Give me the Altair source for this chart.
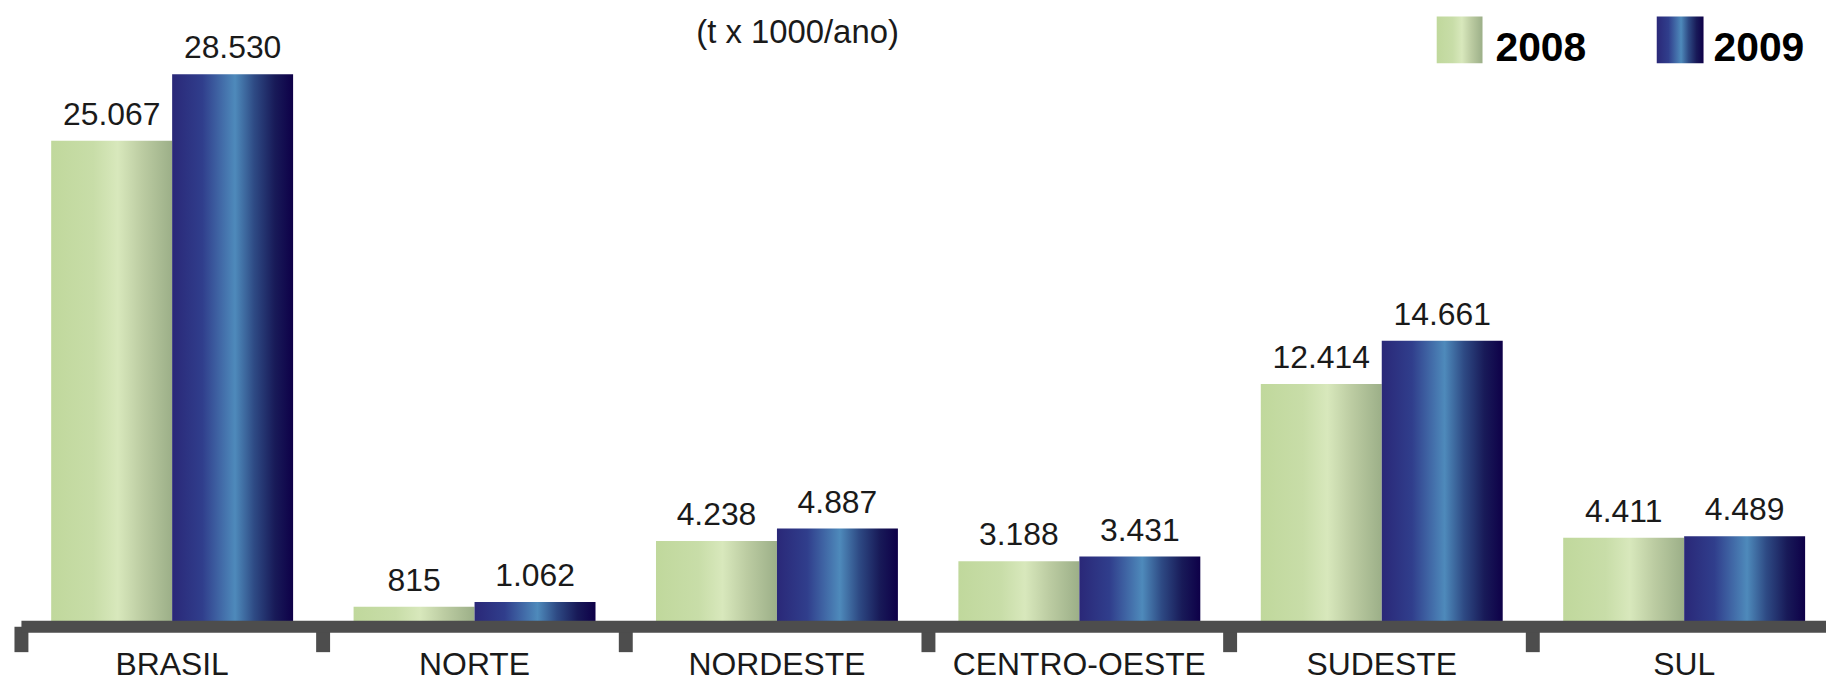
import altair as alt
import pandas as pd

regions = ["BRASIL", "NORTE", "NORDESTE", "CENTRO-OESTE", "SUDESTE", "SUL"]
years = ["2008", "2009"]
v2008 = [25067, 815, 4238, 3188, 12414, 4411]
v2009 = [28530, 1062, 4887, 3431, 14661, 4489]
subtitle = "(t x 1000/ano)"

rows = []
for r, a, b in zip(regions, v2008, v2009):
    rows.append({"regiao": r, "ano": "2008", "valor": a})
    rows.append({"regiao": r, "ano": "2009", "valor": b})
df = pd.DataFrame(rows)
df["rotulo"] = df["valor"].map(lambda v: f"{v:,}".replace(",", "."))
legend_df = pd.DataFrame({"ano": years})
title_df = pd.DataFrame({"t": [subtitle]})

FONT = "Liberation Sans"

green = alt.Gradient(
    gradient="linear", x1=0, x2=1, y1=0, y2=0,
    stops=[
        alt.GradientStop(color="#c0d89c", offset=0),
        alt.GradientStop(color="#c8dda8", offset=0.35),
        alt.GradientStop(color="#d8e8bc", offset=0.55),
        alt.GradientStop(color="#bccca2", offset=0.75),
        alt.GradientStop(color="#9caf88", offset=1),
    ],
)
blue = alt.Gradient(
    gradient="linear", x1=0, x2=1, y1=0, y2=0,
    stops=[
        alt.GradientStop(color="#2a2878", offset=0),
        alt.GradientStop(color="#303e8c", offset=0.25),
        alt.GradientStop(color="#4e8abb", offset=0.52),
        alt.GradientStop(color="#2e4a84", offset=0.68),
        alt.GradientStop(color="#181a58", offset=0.85),
        alt.GradientStop(color="#0e0048", offset=1),
    ],
)

x_enc = alt.X(
    "regiao:N",
    sort=regions,
    scale=alt.Scale(range=[0, 1822.4], paddingInner=0, paddingOuter=0),
    axis=alt.Axis(
        title=None, labelAngle=0, domainColor="#4d4d4d", domainWidth=12,
        tickColor="#4d4d4d", tickWidth=14, tickSize=25.5, bandPosition=0,
        labelFontSize=32, labelFont=FONT, labelColor="#1a1a1a",
        labelPadding=-2, labelLimit=0, zindex=1,
    ),
)
xo_enc = alt.XOffset(
    "ano:N",
    scale=alt.Scale(domain=years, paddingOuter=0.25, paddingInner=0),
)
y_scale = alt.Scale(domain=[-197, 31898], nice=False, zero=False)
y_enc = alt.Y("valor:Q", scale=y_scale, axis=None)

base = alt.Chart(df)

bars08 = base.transform_filter(alt.datum.ano == "2008").mark_bar(color=green).encode(
    x=x_enc, xOffset=xo_enc, y=y_enc
)
bars09 = base.transform_filter(alt.datum.ano == "2009").mark_bar(color=blue).encode(
    x=x_enc, xOffset=xo_enc, y=y_enc
)
texts = base.mark_text(
    dy=-16, baseline="alphabetic", fontSize=32, font=FONT, color="#1a1a1a"
).encode(x=x_enc, xOffset=xo_enc, y=y_enc, text="rotulo:N")

leg = alt.Chart(legend_df)
leg_g = leg.transform_filter(alt.datum.ano == "2008").mark_rect(color=green).encode(
    x=alt.value(1422), x2=alt.value(1468), y=alt.value(7), y2=alt.value(54)
)
leg_b = leg.transform_filter(alt.datum.ano == "2009").mark_rect(color=blue).encode(
    x=alt.value(1643), x2=alt.value(1690), y=alt.value(7), y2=alt.value(54)
)
leg_t1 = leg.transform_filter(alt.datum.ano == "2008").mark_text(
    align="left", baseline="alphabetic", fontSize=41,
    fontWeight="bold", font=FONT, color="#000000"
).encode(text="ano:N", x=alt.value(1481), y=alt.value(52))
leg_t2 = leg.transform_filter(alt.datum.ano == "2009").mark_text(
    align="left", baseline="alphabetic", fontSize=41,
    fontWeight="bold", font=FONT, color="#000000"
).encode(text="ano:N", x=alt.value(1700), y=alt.value(52))
title_t = alt.Chart(title_df).mark_text(
    align="center", baseline="alphabetic", fontSize=33,
    font=FONT, color="#1a1a1a"
).encode(text="t:N", x=alt.value(780), y=alt.value(34))

chart = alt.layer(
    bars08, bars09, texts, leg_g, leg_b, leg_t1, leg_t2, title_t
).properties(
    width=1813, height=619.5,
    autosize=alt.AutoSizeParams(type="none"),
    padding={"left": 13, "top": 0, "right": 0, "bottom": 55},
).configure_view(stroke=None)

chart.save("out.html", embed_options={"renderer": "svg", "actions": False})
